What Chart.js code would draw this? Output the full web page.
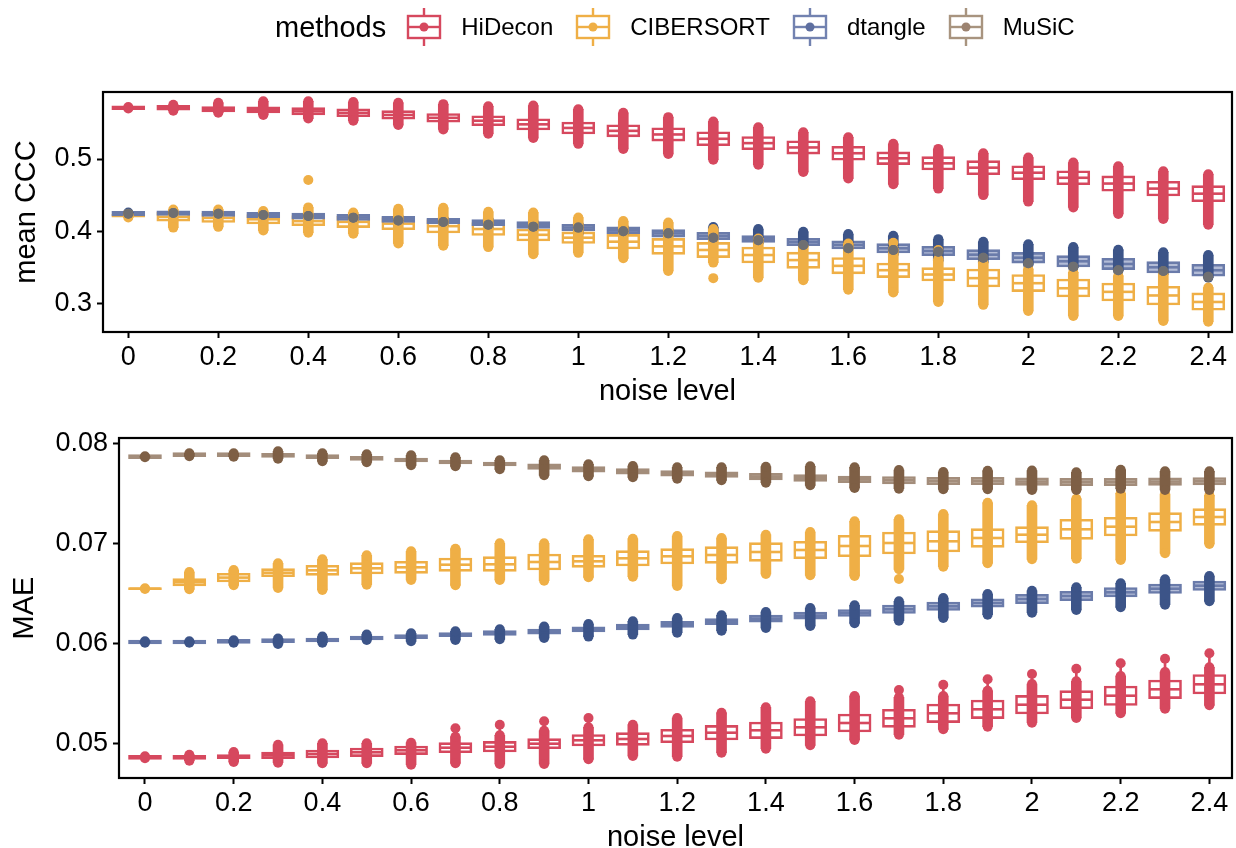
<!DOCTYPE html>
<html>
<head>
<meta charset="utf-8">
<script src="https://cdn.jsdelivr.net/npm/chart.js@4.4.1/dist/chart.umd.min.js"></script>
<style>
  html, body { margin: 0; padding: 0; background: #fff; overflow: hidden; }
  body { width: 1236px; height: 848px; position: relative; font-family: 'Liberation Sans', Arial, sans-serif; }
  #legend { position: absolute; left: 275px; top: 8px; height: 38px; display: flex; align-items: center; color: #000; }
  #legend .title { font-size: 29px; margin-right: 20px; }
  #legend canvas { margin-right: 19px; }
  #legend .label { font-size: 24px; margin-right: 22px; }
  #cccChart { position: absolute; left: 0; top: 0; }
  #maeChart { position: absolute; left: 0; top: 415px; }
</style>
</head>
<body>
<canvas id="cccChart" width="1236" height="415"></canvas>
<canvas id="maeChart" width="1236" height="450"></canvas>
<div id="legend"></div>
<script>
const levels = [0, 0.1, 0.2, 0.3, 0.4, 0.5, 0.6, 0.7, 0.8, 0.9, 1, 1.1, 1.2, 1.3, 1.4, 1.5, 1.6, 1.7, 1.8, 1.9, 2, 2.1, 2.2, 2.3, 2.4];
const xTicks = [0, 0.2, 0.4, 0.6, 0.8, 1, 1.2, 1.4, 1.6, 1.8, 2, 2.2, 2.4];
const xTickLabels = ['0', '0.2', '0.4', '0.6', '0.8', '1', '1.2', '1.4', '1.6', '1.8', '2', '2.2', '2.4'];
const cccTicks = [0.3, 0.4, 0.5];
const cccTickLabels = ['0.3', '0.4', '0.5'];
const maeTicks = [0.05, 0.06, 0.07, 0.08];
const maeTickLabels = ['0.05', '0.06', '0.07', '0.08'];
const methods = ['HiDecon', 'CIBERSORT', 'dtangle', 'MuSiC'];

// ---- mean CCC (top panel) ----
const cccHiDeconMed = [0.571, 0.571, 0.569, 0.568, 0.566, 0.564, 0.561, 0.557, 0.553, 0.548, 0.543, 0.539, 0.534, 0.528, 0.522, 0.516, 0.508, 0.501, 0.494, 0.488, 0.481, 0.474, 0.466, 0.459, 0.452];
const cccHiDeconQ1 = [0.5682, 0.5678, 0.5653, 0.5638, 0.5609, 0.5585, 0.555, 0.551, 0.5461, 0.5402, 0.5347, 0.5307, 0.5248, 0.5183, 0.5128, 0.5068, 0.4983, 0.4922, 0.4848, 0.4783, 0.4713, 0.4643, 0.4554, 0.4488, 0.4409];
const cccHiDeconQ3 = [0.5738, 0.5742, 0.5727, 0.5722, 0.5711, 0.5695, 0.567, 0.563, 0.5599, 0.5558, 0.5513, 0.5473, 0.5432, 0.5377, 0.5312, 0.5252, 0.5177, 0.5098, 0.5032, 0.4977, 0.4907, 0.4837, 0.4766, 0.4692, 0.4631];
const cccHiDeconLo = [0.570, 0.567, 0.564, 0.561, 0.556, 0.553, 0.547, 0.541, 0.535, 0.529, 0.521, 0.514, 0.507, 0.499, 0.492, 0.482, 0.473, 0.465, 0.459, 0.450, 0.441, 0.433, 0.424, 0.417, 0.409];
const cccHiDeconHi = [0.572, 0.575, 0.578, 0.580, 0.580, 0.579, 0.578, 0.576, 0.573, 0.574, 0.569, 0.564, 0.558, 0.552, 0.544, 0.537, 0.530, 0.521, 0.514, 0.508, 0.502, 0.495, 0.490, 0.483, 0.479];
const cccHiDeconOut = [];

const cccCibersortMed = [0.4215, 0.420, 0.4185, 0.4165, 0.414, 0.413, 0.4105, 0.407, 0.403, 0.395, 0.391, 0.3855, 0.379, 0.374, 0.367, 0.360, 0.352, 0.346, 0.340, 0.335, 0.328, 0.321, 0.316, 0.311, 0.302];
const cccCibersortQ1 = [0.4195, 0.414, 0.412, 0.410, 0.4075, 0.405, 0.402, 0.3975, 0.394, 0.3865, 0.383, 0.3755, 0.368, 0.3635, 0.356, 0.3485, 0.341, 0.3357, 0.331, 0.3228, 0.3163, 0.309, 0.3034, 0.2978, 0.2905];
const cccCibersortQ3 = [0.4235, 0.426, 0.425, 0.423, 0.4215, 0.4205, 0.419, 0.416, 0.412, 0.403, 0.399, 0.3955, 0.390, 0.3845, 0.378, 0.371, 0.3635, 0.356, 0.3495, 0.3477, 0.340, 0.3338, 0.3283, 0.3237, 0.3145];
const cccCibersortLo = [0.419, 0.405, 0.406, 0.401, 0.398, 0.3965, 0.383, 0.380, 0.378, 0.368, 0.370, 0.3625, 0.345, 0.3565, 0.3355, 0.332, 0.319, 0.315, 0.302, 0.298, 0.2895, 0.2826, 0.2826, 0.2757, 0.2747];
const cccCibersortHi = [0.424, 0.430, 0.430, 0.428, 0.433, 0.426, 0.431, 0.4325, 0.427, 0.426, 0.419, 0.414, 0.412, 0.403, 0.390, 0.380, 0.383, 0.376, 0.3615, 0.357, 0.3477, 0.343, 0.3384, 0.341, 0.322];
const cccCibersortOut = [[0.4, 0.471], [1.3, 0.335], [1.7, 0.384], [1.8, 0.374]];

const cccDtangleMed = [0.4245, 0.425, 0.4243, 0.4225, 0.421, 0.419, 0.4165, 0.414, 0.4118, 0.4086, 0.405, 0.4013, 0.397, 0.3934, 0.3892, 0.385, 0.381, 0.3763, 0.3726, 0.3675, 0.3633, 0.3583, 0.3546, 0.350, 0.3459];
const cccDtangleQ1 = [0.4213, 0.4218, 0.4206, 0.4188, 0.4168, 0.4148, 0.4123, 0.4103, 0.4076, 0.404, 0.4004, 0.3967, 0.3919, 0.3883, 0.3846, 0.3799, 0.3755, 0.3698, 0.3661, 0.3606, 0.3559, 0.3505, 0.3468, 0.3422, 0.3376];
const cccDtangleQ3 = [0.4277, 0.4282, 0.428, 0.4262, 0.4252, 0.4232, 0.4207, 0.4177, 0.416, 0.4132, 0.4096, 0.4059, 0.4021, 0.3985, 0.3938, 0.3901, 0.3865, 0.3828, 0.3791, 0.3744, 0.3707, 0.3661, 0.3624, 0.3578, 0.3542];
const cccDtangleLo = [0.423, 0.4235, 0.421, 0.420, 0.4175, 0.4145, 0.411, 0.408, 0.405, 0.403, 0.396, 0.3955, 0.393, 0.3883, 0.3827, 0.379, 0.3755, 0.367, 0.3588, 0.3564, 0.3532, 0.3495, 0.345, 0.3404, 0.3357];
const cccDtangleHi = [0.426, 0.4275, 0.427, 0.4245, 0.4235, 0.4235, 0.421, 0.419, 0.4175, 0.414, 0.4107, 0.407, 0.403, 0.4058, 0.403, 0.3993, 0.396, 0.3938, 0.389, 0.3855, 0.3818, 0.378, 0.3744, 0.3708, 0.367];
const cccDtangleOut = [];

// MuSiC values barely spread in this panel: one dot per level
const cccMusicMed = [0.4243, 0.4252, 0.4243, 0.4225, 0.421, 0.4188, 0.415, 0.4128, 0.409, 0.4063, 0.405, 0.400, 0.397, 0.391, 0.3876, 0.381, 0.3763, 0.374, 0.3716, 0.3633, 0.3555, 0.3509, 0.3459, 0.3449, 0.337];
const cccMusicOut = [];

// ---- MAE (bottom panel) ----
const maeHiDeconMed = [0.0486, 0.0486, 0.04866, 0.0488, 0.04893, 0.0491, 0.0493, 0.04956, 0.04966, 0.04996, 0.0503, 0.05043, 0.05073, 0.05106, 0.0513, 0.0516, 0.05203, 0.0525, 0.053, 0.0534, 0.05386, 0.05436, 0.05476, 0.0554, 0.0559];
const maeHiDeconQ1 = [0.0484, 0.0484, 0.04846, 0.04847, 0.04853, 0.04867, 0.04887, 0.04906, 0.04913, 0.04946, 0.04973, 0.0498, 0.05006, 0.05033, 0.05047, 0.05073, 0.05113, 0.0516, 0.05207, 0.05247, 0.05293, 0.05346, 0.05379, 0.05447, 0.05493];
const maeHiDeconQ3 = [0.0488, 0.0488, 0.04886, 0.04913, 0.04933, 0.04953, 0.04973, 0.05006, 0.05019, 0.05046, 0.05087, 0.05106, 0.0514, 0.05179, 0.05213, 0.05247, 0.05293, 0.0534, 0.05393, 0.05433, 0.05479, 0.05526, 0.05573, 0.05633, 0.05687];
const maeHiDeconLo = [0.0485, 0.04826, 0.04813, 0.04806, 0.048, 0.048, 0.04786, 0.048, 0.04793, 0.04793, 0.0484, 0.04873, 0.04866, 0.04906, 0.04946, 0.0498, 0.05033, 0.05086, 0.0514, 0.05166, 0.05206, 0.05253, 0.053, 0.05346, 0.0538];
const maeHiDeconHi = [0.0487, 0.04886, 0.04913, 0.04986, 0.05, 0.05, 0.05006, 0.05066, 0.0508, 0.05126, 0.0516, 0.05186, 0.05253, 0.05306, 0.0536, 0.0542, 0.05473, 0.0546, 0.05473, 0.05526, 0.05593, 0.0562, 0.05673, 0.05713, 0.0576];
// upper whisker end (reaches the lone top dot where there is one)
const maeHiDeconWhiskerHi = [0.0487, 0.04886, 0.04913, 0.04986, 0.05, 0.05, 0.05006, 0.0515, 0.05186, 0.0522, 0.05253, 0.05186, 0.05253, 0.05306, 0.0536, 0.0542, 0.05473, 0.05533, 0.05586, 0.0564, 0.05693, 0.05746, 0.058, 0.05846, 0.059];
const maeHiDeconOut = [[0.7, 0.0515], [0.8, 0.05186], [0.9, 0.0522], [1, 0.05253], [1.7, 0.05533], [1.8, 0.05586], [1.9, 0.0564], [2, 0.05693], [2.1, 0.05746], [2.2, 0.058], [2.3, 0.05846], [2.4, 0.059]];

const maeCibersortMed = [0.06546, 0.0661, 0.06657, 0.06706, 0.0673, 0.0675, 0.0676, 0.06786, 0.0679, 0.06813, 0.0682, 0.0685, 0.0687, 0.06883, 0.06913, 0.06933, 0.06973, 0.07003, 0.0702, 0.07053, 0.07086, 0.0714, 0.07166, 0.07213, 0.07263];
const maeCibersortQ1 = [0.06536, 0.06573, 0.06613, 0.06666, 0.0668, 0.06693, 0.067, 0.0672, 0.0672, 0.06733, 0.0676, 0.06773, 0.06793, 0.068, 0.0682, 0.06846, 0.06866, 0.06893, 0.06913, 0.0696, 0.07006, 0.0704, 0.07073, 0.0712, 0.0718];
const maeCibersortQ3 = [0.06556, 0.06646, 0.0670, 0.06746, 0.0678, 0.06806, 0.0682, 0.06853, 0.06866, 0.06893, 0.0688, 0.06926, 0.06946, 0.06966, 0.07006, 0.0702, 0.0708, 0.07113, 0.07126, 0.07146, 0.07166, 0.0724, 0.0726, 0.07306, 0.07346];
const maeCibersortLo = [0.06543, 0.0654, 0.0658, 0.06553, 0.06533, 0.06586, 0.06633, 0.0658, 0.06633, 0.06626, 0.0666, 0.06666, 0.06573, 0.0664, 0.06693, 0.0668, 0.06673, 0.0674, 0.06766, 0.068, 0.0684, 0.06846, 0.06833, 0.069, 0.06993];
const maeCibersortHi = [0.0655, 0.06713, 0.06733, 0.0680, 0.0684, 0.0688, 0.0692, 0.06946, 0.0700, 0.0700, 0.0704, 0.07046, 0.07073, 0.07053, 0.07086, 0.07113, 0.0722, 0.0724, 0.07293, 0.07406, 0.0738, 0.07446, 0.0750, 0.07493, 0.0748];
const maeCibersortOut = [[1.7, 0.06643]];

const maeDtangleMed = [0.06013, 0.06013, 0.0602, 0.06026, 0.06033, 0.06053, 0.06067, 0.06087, 0.06103, 0.06117, 0.0614, 0.06163, 0.0619, 0.06216, 0.06246, 0.06276, 0.06303, 0.0634, 0.0637, 0.06403, 0.06443, 0.06473, 0.0651, 0.06546, 0.06576];
const maeDtangleQ1 = [0.05993, 0.05993, 0.06, 0.06006, 0.06013, 0.06033, 0.06047, 0.06067, 0.06078, 0.06092, 0.06115, 0.06133, 0.0616, 0.06186, 0.06211, 0.06241, 0.06268, 0.06298, 0.06328, 0.06361, 0.06396, 0.06426, 0.06463, 0.06499, 0.06529];
const maeDtangleQ3 = [0.06033, 0.06033, 0.0604, 0.06046, 0.06053, 0.06073, 0.06087, 0.06107, 0.06128, 0.06142, 0.06165, 0.06193, 0.0622, 0.06246, 0.06281, 0.06311, 0.06338, 0.06382, 0.06412, 0.06445, 0.0649, 0.0652, 0.06557, 0.06593, 0.06623];
const maeDtangleLo = [0.06006, 0.06006, 0.06006, 0.05993, 0.06006, 0.06033, 0.0602, 0.06033, 0.0604, 0.06053, 0.06067, 0.06087, 0.06106, 0.06126, 0.06153, 0.06173, 0.062, 0.06226, 0.06253, 0.06286, 0.06306, 0.06333, 0.0636, 0.06386, 0.0642];
const maeDtangleHi = [0.0602, 0.0602, 0.0603, 0.06047, 0.06067, 0.06087, 0.061, 0.0612, 0.0614, 0.06167, 0.06193, 0.0622, 0.06253, 0.0628, 0.06313, 0.06353, 0.0638, 0.0642, 0.06453, 0.06493, 0.06526, 0.0656, 0.066, 0.0664, 0.06673];
const maeDtangleOut = [];

const maeMusicMed = [0.07866, 0.07886, 0.07886, 0.0788, 0.07866, 0.0785, 0.07833, 0.07813, 0.07793, 0.07766, 0.0774, 0.0772, 0.0770, 0.07686, 0.07666, 0.07653, 0.0764, 0.0763, 0.07623, 0.07623, 0.07617, 0.07613, 0.07613, 0.07617, 0.0762];
const maeMusicQ1 = [0.07846, 0.07866, 0.07866, 0.0786, 0.07846, 0.0783, 0.07813, 0.07793, 0.07773, 0.07738, 0.07712, 0.07692, 0.07672, 0.07658, 0.07633, 0.0762, 0.07607, 0.07593, 0.07586, 0.07586, 0.0758, 0.07576, 0.07576, 0.0758, 0.07583];
const maeMusicQ3 = [0.07886, 0.07906, 0.07906, 0.079, 0.07886, 0.0787, 0.07853, 0.07833, 0.07813, 0.07794, 0.07768, 0.07748, 0.07728, 0.07714, 0.07699, 0.07686, 0.07673, 0.07667, 0.0766, 0.0766, 0.07654, 0.0765, 0.0765, 0.07654, 0.07657];
const maeMusicLo = [0.0786, 0.0787, 0.07866, 0.07846, 0.0782, 0.0781, 0.0778, 0.0777, 0.0774, 0.0768, 0.0767, 0.0766, 0.07646, 0.0763, 0.07606, 0.0758, 0.07553, 0.07546, 0.0754, 0.0754, 0.07533, 0.07533, 0.07546, 0.07533, 0.07533];
const maeMusicHi = [0.0787, 0.0790, 0.0790, 0.0792, 0.0790, 0.0789, 0.0788, 0.0786, 0.0783, 0.0783, 0.0779, 0.07773, 0.0776, 0.0776, 0.07766, 0.0777, 0.0776, 0.07733, 0.07713, 0.07726, 0.07727, 0.0771, 0.07736, 0.0772, 0.0772];
const maeMusicOut = [];

const FONT = "'Liberation Sans', Arial, sans-serif";
Chart.defaults.font.family = FONT;
Chart.defaults.color = '#000';

const styles = {
  HiDecon:   { line: '#D6485E', fill: '#ffffff', dot: '#D6485E', key: '#D6485E', keyDot: '#D6485E' },
  CIBERSORT: { line: '#EFAF46', fill: '#ffffff', dot: '#EFAF46', key: '#EFAF46', keyDot: '#EFAF46' },
  dtangle:   { line: '#6A7BAA', fill: '#B3BCD6', dot: '#3C5488', key: '#7282B0', keyDot: '#5E6FA0' },
  MuSiC:     { line: '#A38D7B', fill: '#D2C6BC', dot: '#7E5F45', key: '#A8947F', keyDot: '#9C8370' },
};
const topMusicDot = '#6F6F71';

function boxSet(st, q1, q3) {
  return {
    type: 'bar',
    data: levels.map((x, i) => ({ x: x, y: [q1[i], q3[i]] })),
    backgroundColor: st.fill,
    borderColor: st.line,
    borderWidth: 2.6,
    borderSkipped: false,
    barThickness: 33,
    maxBarThickness: 33,
    grouped: false,
  };
}

function medianSet(st, med, q1, q3) {
  return {
    type: 'scatter',
    data: levels.map((x, i) => ({ x: x, y: med[i] })),
    pointStyle: 'line',
    pointRadius: levels.map((x, i) => (q3[i] > q1[i] ? 15.5 : 0)),
    pointBorderWidth: 2.6,
    pointBorderColor: st.line,
    pointBackgroundColor: st.line,
  };
}

// vertical segment between two values, used for whiskers and for dense runs of points
function rangeSet(color, lo, hi, width) {
  return {
    type: 'bar',
    data: levels.map((x, i) => ({ x: x, y: [lo[i], hi[i]] })),
    backgroundColor: color,
    borderWidth: 0,
    barThickness: width,
    maxBarThickness: width,
    grouped: false,
  };
}

function dotSet(color, lo, hi, extra) {
  const pts = [];
  levels.forEach((x, i) => { pts.push({ x: x, y: lo[i] }, { x: x, y: hi[i] }); });
  extra.forEach(p => pts.push({ x: p[0], y: p[1] }));
  return {
    type: 'scatter',
    data: pts,
    pointRadius: 5,
    pointBorderWidth: 0,
    pointBackgroundColor: color,
  };
}

function ordered(list) {
  return list.map((d, k) => Object.assign(d, { order: list.length - k }));
}

const panelBorder = {
  id: 'panelBorder',
  afterDatasetsDraw(chart) {
    const { ctx, chartArea: a } = chart;
    ctx.save();
    ctx.strokeStyle = '#000';
    ctx.lineWidth = 2.2;
    ctx.strokeRect(a.left, a.top, a.right - a.left, a.bottom - a.top);
    ctx.restore();
  }
};

const gridOpts = { display: true, drawOnChartArea: false, drawTicks: true, tickLength: 6, tickWidth: 2, tickColor: '#000', offset: false };

function makeChart(id, cfg) {
  return new Chart(document.getElementById(id), {
    type: 'scatter',
    data: { datasets: cfg.datasets },
    options: {
      responsive: false,
      animation: false,
      events: [],
      layout: { autoPadding: false, padding: { top: cfg.top, right: 4, left: 0, bottom: 0 } },
      plugins: { legend: { display: false }, tooltip: { enabled: false } },
      scales: {
        x: {
          type: 'linear', min: cfg.xMin, max: cfg.xMax, offset: false,
          afterBuildTicks: s => { s.ticks = xTicks.map(v => ({ value: v })); },
          afterFit: s => { s.height = cfg.xHeight; },
          ticks: { callback: (v, i) => xTickLabels[i], font: { size: 27 }, padding: 3, maxRotation: 0, autoSkip: false },
          grid: gridOpts,
          border: { display: false },
          title: { display: true, text: 'noise level', font: { size: 29 }, padding: { top: 0, bottom: cfg.titlePad } },
        },
        y: {
          type: 'linear', min: cfg.yMin, max: cfg.yMax,
          afterBuildTicks: s => { s.ticks = cfg.yTicks.map(v => ({ value: v })); },
          afterFit: s => { s.width = cfg.yWidth; },
          ticks: { callback: (v, i) => cfg.yLabels[i], font: { size: 27 }, padding: 5 },
          grid: gridOpts,
          border: { display: false },
          title: { display: true, text: cfg.yTitle, font: { size: 29 }, padding: { top: cfg.yTitlePad, bottom: 0 } },
        },
      },
    },
    plugins: [panelBorder],
  });
}

const S = styles;
const cccDatasets = ordered([
  boxSet(S.HiDecon, cccHiDeconQ1, cccHiDeconQ3), medianSet(S.HiDecon, cccHiDeconMed, cccHiDeconQ1, cccHiDeconQ3),
  boxSet(S.CIBERSORT, cccCibersortQ1, cccCibersortQ3), medianSet(S.CIBERSORT, cccCibersortMed, cccCibersortQ1, cccCibersortQ3),
  boxSet(S.dtangle, cccDtangleQ1, cccDtangleQ3), medianSet(S.dtangle, cccDtangleMed, cccDtangleQ1, cccDtangleQ3),
  rangeSet(S.HiDecon.dot, cccHiDeconLo, cccHiDeconHi, 10), dotSet(S.HiDecon.dot, cccHiDeconLo, cccHiDeconHi, cccHiDeconOut),
  rangeSet(S.dtangle.dot, cccDtangleLo, cccDtangleHi, 10), dotSet(S.dtangle.dot, cccDtangleLo, cccDtangleHi, cccDtangleOut),
  rangeSet(S.CIBERSORT.dot, cccCibersortLo, cccCibersortHi, 10), dotSet(S.CIBERSORT.dot, cccCibersortLo, cccCibersortHi, cccCibersortOut),
  dotSet(topMusicDot, cccMusicMed, cccMusicMed, cccMusicOut),
]);

const maeDatasets = ordered([
  rangeSet(S.HiDecon.line, maeHiDeconLo, maeHiDeconWhiskerHi, 2),
  boxSet(S.HiDecon, maeHiDeconQ1, maeHiDeconQ3), medianSet(S.HiDecon, maeHiDeconMed, maeHiDeconQ1, maeHiDeconQ3),
  boxSet(S.CIBERSORT, maeCibersortQ1, maeCibersortQ3), medianSet(S.CIBERSORT, maeCibersortMed, maeCibersortQ1, maeCibersortQ3),
  boxSet(S.dtangle, maeDtangleQ1, maeDtangleQ3), medianSet(S.dtangle, maeDtangleMed, maeDtangleQ1, maeDtangleQ3),
  boxSet(S.MuSiC, maeMusicQ1, maeMusicQ3), medianSet(S.MuSiC, maeMusicMed, maeMusicQ1, maeMusicQ3),
  rangeSet(S.HiDecon.dot, maeHiDeconLo, maeHiDeconHi, 10), dotSet(S.HiDecon.dot, maeHiDeconLo, maeHiDeconHi, maeHiDeconOut),
  rangeSet(S.dtangle.dot, maeDtangleLo, maeDtangleHi, 10), dotSet(S.dtangle.dot, maeDtangleLo, maeDtangleHi, maeDtangleOut),
  rangeSet(S.CIBERSORT.dot, maeCibersortLo, maeCibersortHi, 10), dotSet(S.CIBERSORT.dot, maeCibersortLo, maeCibersortHi, maeCibersortOut),
  rangeSet(S.MuSiC.dot, maeMusicLo, maeMusicHi, 10), dotSet(S.MuSiC.dot, maeMusicLo, maeMusicHi, maeMusicOut),
]);

makeChart('cccChart', {
  datasets: cccDatasets, top: 92,
  xMin: -0.0562, xMax: 2.4527, xHeight: 83, titlePad: 6,
  yMin: 0.2604, yMax: 0.5928, yTicks: cccTicks, yLabels: cccTickLabels, yWidth: 103,
  yTitle: 'mean CCC', yTitlePad: 10,
});

makeChart('maeChart', {
  datasets: maeDatasets, top: 23,
  xMin: -0.0586, xMax: 2.451, xHeight: 87, titlePad: 10,
  yMin: 0.04653, yMax: 0.08053, yTicks: maeTicks, yLabels: maeTickLabels, yWidth: 119,
  yTitle: 'MAE', yTitlePad: 8,
});

// legend: box-plot keys drawn on small canvases, labels as text
const legend = document.getElementById('legend');
const title = document.createElement('span');
title.className = 'title';
title.textContent = 'methods';
legend.appendChild(title);
methods.forEach(m => {
  const st = styles[m];
  const cv = document.createElement('canvas');
  cv.width = 36; cv.height = 38;
  const c = cv.getContext('2d');
  c.strokeStyle = st.key; c.lineWidth = 2.4;
  c.beginPath(); c.moveTo(18, 0); c.lineTo(18, 8); c.moveTo(18, 30); c.lineTo(18, 38); c.stroke();
  c.fillStyle = '#fff'; c.fillRect(2, 8, 32, 22); c.strokeRect(2, 8, 32, 22);
  c.beginPath(); c.moveTo(2, 19); c.lineTo(34, 19); c.stroke();
  c.fillStyle = st.keyDot; c.beginPath(); c.arc(18, 19, 4.5, 0, 2 * Math.PI); c.fill();
  legend.appendChild(cv);
  const lab = document.createElement('span');
  lab.className = 'label';
  lab.textContent = m;
  legend.appendChild(lab);
});
</script>
</body>
</html>
